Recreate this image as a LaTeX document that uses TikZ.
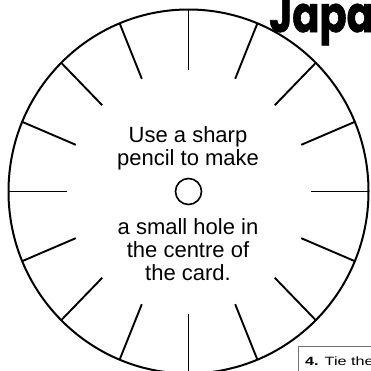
\documentclass[tikz,border=0pt]{standalone}
\usepackage{fontspec}
\setmainfont{Liberation Sans}
\newfontfamily\titlefont{Poppins}[FakeStretch=0.8, FakeBold=1.2]
\newfontfamily\boxfont{Liberation Sans}[FakeStretch=1.35]
\usepackage{tikz}
\usetikzlibrary{positioning, calc}

\begin{document}
\begin{tikzpicture}[x=1pt, y=-1pt, every node/.style={font=\fontsize{22}{22.8}\selectfont, inner sep=0pt}]
    \tikzstyle{rim} = [draw=black, line width=2pt]
    \tikzstyle{notch} = [draw=black, line width=1.9pt]
    \tikzstyle{hint} = [align=center, anchor=base]
    \useasboundingbox (0,0) rectangle (371,370);

    % Card disc
    \coordinate (ctr) at (188.5,191.5);
    \draw [rim] (ctr) circle [x radius=180, y radius=182];

    % Notches round the rim
    \foreach \a in {0,22.5,...,337.5} {
        \draw [notch] ($(ctr)+(\a:180 and 182)$) -- ($(ctr)+(\a:122 and 122)$);
    }

    % Centre hole
    \node (hole) [circle, draw=black, line width=1.6pt, minimum size=26pt] at (ctr) {};

    % Instructions
    \node (top1) [hint] at (188,142.7) {Use a sharp};
    \node (top2) [hint] at (188,165.6) {pencil to make};
    \node (low1) [hint] at (188,234.3) {a small hole in};
    \node (low2) [hint] at (188,257.2) {the centre of};
    \node (low3) [hint] at (188,280) {the card.};

    % Title (cut off)
    \node (title) [anchor=base west, font=\titlefont\bfseries\fontsize{50}{50}\selectfont] at (269,32) {Japa};

    % Step box (cut off)
    \node (stepbox) [draw=black!55, line width=0.6pt, fill=white, anchor=north west, minimum width=90pt, minimum height=40pt] at (298,346) {};
    \node (step4) [anchor=base west, font=\boxfont\fontsize{12}{13}\selectfont] at (305,365) {\textbf{4.} Tie the};
\end{tikzpicture}
\end{document}
